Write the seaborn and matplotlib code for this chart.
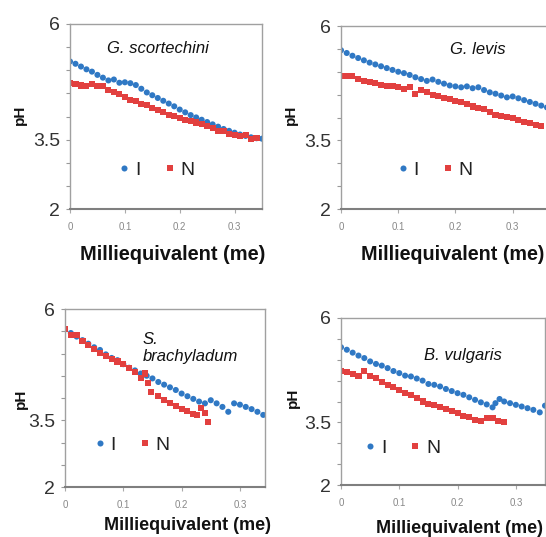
import pandas as pd
import matplotlib.pyplot as plt
import seaborn as sns

# shared milliequivalent grid (readings taken every 0.01 me)
me_grid = [0.00, 0.01, 0.02, 0.03, 0.04, 0.05, 0.06, 0.07, 0.08, 0.09,
           0.10, 0.11, 0.12, 0.13, 0.14, 0.15, 0.16, 0.17, 0.18, 0.19,
           0.20, 0.21, 0.22, 0.23, 0.24, 0.25, 0.26, 0.27, 0.28, 0.29,
           0.30, 0.31, 0.32, 0.33, 0.34, 0.35, 0.36]

# G. scortechini
gs_I = [5.19, 5.14, 5.08, 5.02, 4.97, 4.90, 4.84, 4.78, 4.80, 4.73,
        4.74, 4.72, 4.68, 4.60, 4.52, 4.46, 4.40, 4.34, 4.28, 4.22,
        4.15, 4.09, 4.03, 3.98, 3.93, 3.88, 3.83, 3.78, 3.73, 3.69,
        3.65, 3.61, 3.58, 3.55, 3.53, 3.52]
gs_N = [4.73, 4.70, 4.67, 4.66, 4.70, 4.66, 4.66, 4.58, 4.53, 4.48,
        4.43, 4.36, 4.33, 4.28, 4.24, 4.19, 4.15, 4.10, 4.04, 4.02,
        3.97, 3.93, 3.90, 3.87, 3.84, 3.80, 3.76, 3.68, 3.68, 3.63,
        3.61, 3.58, 3.60, 3.52, 3.53]

# G. levis
gl_I = [5.47, 5.41, 5.35, 5.30, 5.25, 5.20, 5.16, 5.12, 5.08, 5.04,
        5.00, 4.97, 4.93, 4.88, 4.84, 4.80, 4.83, 4.78, 4.74, 4.70,
        4.68, 4.66, 4.68, 4.64, 4.66, 4.60, 4.55, 4.52, 4.48, 4.44,
        4.46, 4.42, 4.38, 4.34, 4.30, 4.26, 4.22]
gl_N = [4.90, 4.91, 4.90, 4.84, 4.80, 4.78, 4.75, 4.72, 4.68, 4.68,
        4.66, 4.62, 4.66, 4.52, 4.60, 4.55, 4.50, 4.47, 4.42, 4.40,
        4.36, 4.34, 4.30, 4.24, 4.20, 4.18, 4.13, 4.06, 4.04, 4.02,
        3.98, 3.94, 3.90, 3.88, 3.84, 3.82]

# S. brachyladum
sb_I = [5.54, 5.46, 5.38, 5.30, 5.22, 5.14, 5.08, 4.98, 4.90, 4.85,
        4.76, 4.68, 4.62, 4.55, 4.50, 4.44, 4.36, 4.30, 4.24, 4.18,
        4.10, 4.04, 3.98, 3.92, 3.88, 3.95, 3.88, 3.80, 3.69, 3.88,
        3.85, 3.80, 3.75, 3.69, 3.62, 3.55]
sb_N_x = [0.00, 0.01, 0.02, 0.03, 0.04, 0.05, 0.06, 0.07, 0.08, 0.09,
          0.10, 0.11, 0.12, 0.13, 0.137, 0.143, 0.147, 0.16, 0.17, 0.18,
          0.19, 0.20, 0.21, 0.22, 0.226, 0.234, 0.24, 0.245]
sb_N = [5.56, 5.42, 5.41, 5.28, 5.20, 5.10, 5.02, 4.95, 4.88, 4.82,
        4.76, 4.68, 4.58, 4.44, 4.55, 4.33, 4.14, 4.04, 3.96, 3.88,
        3.82, 3.76, 3.70, 3.65, 3.61, 3.77, 3.66, 3.46]

# B. vulgaris
bv_I_x = [0.00, 0.01, 0.02, 0.03, 0.04, 0.05, 0.06, 0.07, 0.08, 0.09,
          0.10, 0.11, 0.12, 0.13, 0.14, 0.15, 0.16, 0.17, 0.18, 0.19,
          0.20, 0.21, 0.22, 0.23, 0.24, 0.25, 0.26, 0.265, 0.272, 0.28,
          0.29, 0.30, 0.31, 0.32, 0.33, 0.341, 0.35]
bv_I = [5.30, 5.24, 5.17, 5.10, 5.04, 4.96, 4.90, 4.86, 4.80, 4.73,
        4.68, 4.62, 4.60, 4.55, 4.50, 4.42, 4.40, 4.36, 4.30, 4.25,
        4.20, 4.16, 4.10, 4.04, 3.98, 3.93, 3.86, 3.96, 4.06, 4.00,
        3.96, 3.92, 3.88, 3.84, 3.80, 3.74, 3.90]
bv_N = [4.74, 4.70, 4.66, 4.62, 4.74, 4.60, 4.56, 4.46, 4.40, 4.34,
        4.27, 4.20, 4.16, 4.08, 4.00, 3.95, 3.92, 3.86, 3.82, 3.78,
        3.72, 3.66, 3.62, 3.56, 3.53, 3.60, 3.60, 3.54, 3.51]

species = ['G. scortechini', 'G. levis', 'S.\nbrachyladum', 'B. vulgaris']
series_I = [(me_grid[:len(gs_I)], gs_I), (me_grid[:len(gl_I)], gl_I),
            (me_grid[:len(sb_I)], sb_I), (bv_I_x, bv_I)]
series_N = [(me_grid[:len(gs_N)], gs_N), (me_grid[:len(gl_N)], gl_N),
            (sb_N_x, sb_N), (me_grid[:len(bv_N)], bv_N)]

W, H = 546, 537
# pixel boxes of each panel: left, top, right, bottom, xmax
boxes = [(70, 24, 262, 209, 0.35), (341, 26, 547, 209, 0.36),
         (65, 309, 265, 487, 0.343), (341, 318, 545, 485, 0.35)]
title_pos = [(0.458, 0.865, 'center'), (0.665, 0.87, 'center'),
             (0.39, 0.78, 'left'), (0.598, 0.778, 'center')]
legend_pos = [(0.45, 0.21), (0.456, 0.213), (0.335, 0.236), (0.30, 0.22)]
xlabel_pos = [(0.536, -0.195), (0.544, -0.197), (0.615, -0.169), (0.583, -0.21)]
xlabel_size = [14.4, 14.2, 13, 13]
ylabel_pos = [(-0.224, 0.508), (-0.209, 0.514), (-0.185, 0.494), (-0.20, 0.52)]

blue = '#2f78c4'
red = '#e2403f'

sns.set_style('white')
plt.rcParams['font.family'] = ['Liberation Sans', 'DejaVu Sans']

fig = plt.figure(figsize=(W / 100, H / 100), dpi=100)

for i in range(4):
    l, t, r, b, xmax = boxes[i]
    ax = fig.add_axes([l / W, (H - b) / H, (r - l) / W, (b - t) / H])

    xI, yI = series_I[i]
    xN, yN = series_N[i]
    df = pd.DataFrame({
        'me': list(xI) + list(xN),
        'pH': list(yI) + list(yN),
        'series': ['I'] * len(yI) + ['N'] * len(yN),
    })
    sns.scatterplot(data=df, x='me', y='pH', hue='series', style='series',
                    palette={'I': blue, 'N': red}, markers={'I': 'o', 'N': 's'},
                    s=19, linewidth=0, ax=ax)

    ax.set_xlim(0, xmax)
    ax.set_ylim(2, 6)
    ax.set_xticks([0, 0.1, 0.2, 0.3])
    ax.set_xticklabels(['0', '0.1', '0.2', '0.3'])
    ax.set_yticks([2, 3.5, 6])
    ax.set_yticklabels(['2', '3.5', '6'])
    ax.set_yticks([2.5, 3, 4, 4.5, 5, 5.5], minor=True)
    ax.tick_params(axis='y', which='both', left=True, length=3, width=0.8,
                   color='#999999', labelsize=14, labelcolor='#333333', pad=4)
    ax.tick_params(axis='x', bottom=True, length=3, width=0.8, color='#aaaaaa',
                   labelsize=7, labelcolor='#888888', pad=6)

    for side in ['top', 'right', 'left']:
        ax.spines[side].set_color('#a0a0a0')
        ax.spines[side].set_linewidth(1)
    ax.spines['bottom'].set_color('#7f7f7f')
    ax.spines['bottom'].set_linewidth(1.5)

    ax.set_xlabel('Milliequivalent (me)', fontsize=xlabel_size[i],
                  fontweight='bold', color='#111111')
    ax.xaxis.set_label_coords(*xlabel_pos[i])
    ax.set_ylabel('pH', fontsize=11, fontweight='bold', color='#111111')
    ax.yaxis.set_label_coords(*ylabel_pos[i])

    tx, ty, ha = title_pos[i]
    ax.text(tx, ty, species[i], transform=ax.transAxes, fontsize=12,
            style='italic', ha=ha, va='center', linespacing=1.15, color='#111111')

    handles, labels = ax.get_legend_handles_labels()
    ax.legend(handles, labels, loc='center', bbox_to_anchor=legend_pos[i],
              ncol=2, frameon=False, fontsize=14, handlelength=0.6,
              handletextpad=0.25, columnspacing=1.2, labelcolor='#222222')

fig.savefig('out.png', dpi=100)
